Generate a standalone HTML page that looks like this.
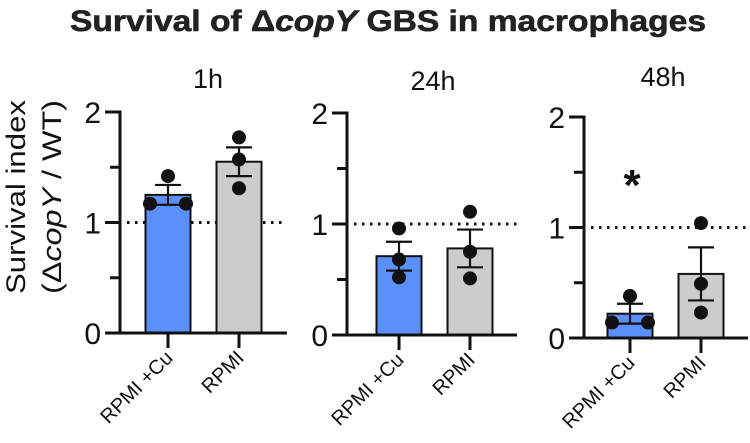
<!DOCTYPE html>
<html><head><meta charset="utf-8"><style>
html,body{margin:0;padding:0;background:#fff;}
svg{display:block;font-family:"Liberation Sans",Arial,sans-serif;}
</style></head><body>
<svg id="chart" width="750" height="443" viewBox="0 0 750 443" xmlns="http://www.w3.org/2000/svg">
<text x="388" y="31" text-anchor="middle" font-size="30" font-weight="bold" textLength="636" lengthAdjust="spacingAndGlyphs" fill="#222" stroke="#222" stroke-width="0.6">Survival of Δ<tspan font-style="italic">copY</tspan> GBS in macrophages</text>
<g font-size="27" fill="#111">
<text transform="translate(25,197) rotate(-90)" text-anchor="middle" textLength="194" lengthAdjust="spacingAndGlyphs">Survival index</text>
<text transform="translate(61,197) rotate(-90)" text-anchor="middle" textLength="194" lengthAdjust="spacingAndGlyphs">(Δ<tspan font-style="italic">copY</tspan> / WT)</text>
</g>
<g id="panels"></g>
</svg>
<script>
const panelTitles = ['1h','24h','48h'];
const categories = ['RPMI +Cu','RPMI'];
const yTicks = [0,1,2];
const means1h = [1.25, 1.55];
const means24h = [0.71, 0.78];
const means48h = [0.22, 0.58];
const sem1h = [0.09, 0.13];
const sem24h = [0.13, 0.17];
const sem48h = [0.09, 0.24];
const points1h = [[1.17, 1.17, 1.42], [1.77, 1.57, 1.31]];
const points24h = [[0.96, 0.68, 0.52], [1.11, 0.75, 0.51]];
const points48h = [[0.38, 0.14, 0.14], [1.04, 0.49, 0.23]];
const refLine = 1;

const NS='http://www.w3.org/2000/svg';
const root=document.getElementById('panels');
function mk(tag,attrs,parent){const e=document.createElementNS(NS,tag);for(const k in attrs)e.setAttribute(k,attrs[k]);parent.appendChild(e);return e;}
const layout=[
 {ax:120,y0:333,y2:112,xEnd:287,refStart:127,cx:[168,239],title:[208,88],star:false},
 {ax:347,y0:335,y2:113,xEnd:517,refStart:354,cx:[399,470],title:[433,90],star:false},
 {ax:584,y0:338,y2:117,xEnd:748,refStart:591,cx:[630,701],title:[663,86],star:true}
];
const means=[means1h,means24h,means48h];
const sems=[sem1h,sem24h,sem48h];
const pts=[points1h,points24h,points48h];
const colors=['#5b8ff9','#cccccc'];
layout.forEach((L,p)=>{
 const g=mk('g',{},root);
 
 
 const yS=v=>L.y0-(L.y0-L.y2)*v/2;
 const t=mk('text',{x:L.title[0],y:L.title[1],'text-anchor':'middle','font-size':27,fill:'#111'},g);
 
 
 t.textContent=panelTitles[p];
 const rl=mk('line',{x1:L.refStart,x2:L.xEnd,y1:yS(refLine),y2:yS(refLine),stroke:'#111','stroke-width':3,'stroke-dasharray':'2.5 5.5'},g);
 
 
 categories.forEach((c,i)=>{
  const x=L.cx[i];
  const b=mk('rect',{x:x-22.5,y:yS(means[p][i]),width:45,height:L.y0-yS(means[p][i]),fill:colors[i],stroke:'#111','stroke-width':2},g);
  
  
  const m=means[p][i],s=sems[p][i];
  const e=mk('g',{stroke:'#111','stroke-width':2.2},g);
  
  
  mk('line',{x1:x,x2:x,y1:yS(m+s),y2:yS(m-s)},e);
  mk('line',{x1:x-13,x2:x+13,y1:yS(m+s),y2:yS(m+s)},e);
  mk('line',{x1:x-13,x2:x+13,y1:yS(m-s),y2:yS(m-s)},e);
  const vals=pts[p][i];
  vals.forEach((v,k)=>{
   let dx=0;
   const dups=vals.filter(w=>Math.abs(w-v)<0.06);
   if(dups.length>1){const idx=vals.slice(0,k).filter(w=>Math.abs(w-v)<0.06).length;dx=idx===0?-18:18;}
   const d=mk('circle',{cx:x+dx,cy:yS(v),r:7,fill:'#111'},g);
   
   
  });
  const tk=mk('line',{x1:x,x2:x,y1:L.y0,y2:L.y0+15,stroke:'#111','stroke-width':3},g);
  
  
  const lb=mk('text',{transform:`translate(${x+6},${L.y0+26}) rotate(-45)`,'text-anchor':'end','font-size':20,fill:'#111'},g);
  
  
  lb.textContent=c;
 });
 const ya=mk('line',{x1:L.ax,x2:L.ax,y1:L.y2-1.5,y2:L.y0+1.5,stroke:'#111','stroke-width':3},g);
 
 
 const xa=mk('line',{x1:L.ax-15,x2:L.xEnd,y1:L.y0,y2:L.y0,stroke:'#111','stroke-width':3},g);
 
 
 for(let v=0.5;v<2;v+=1){mk('line',{x1:L.ax-10,x2:L.ax,y1:yS(v),y2:yS(v),stroke:'#111','stroke-width':3},g);}
 yTicks.forEach(v=>{
  mk('line',{x1:L.ax-15,x2:L.ax,y1:yS(v),y2:yS(v),stroke:'#111','stroke-width':3},g);
  const tl=mk('text',{x:L.ax-19,y:yS(v)+11,'text-anchor':'end','font-size':30,fill:'#111'},g);
  
  
  tl.textContent=v;
 });
 if(L.star){
  const st=mk('text',{x:L.cx[0]+2,y:yS(1.45)+22,'text-anchor':'middle','font-size':44,'font-weight':'bold',fill:'#111'},g);
  
  
  st.textContent='*';
 }
});
</script>
</body></html>
